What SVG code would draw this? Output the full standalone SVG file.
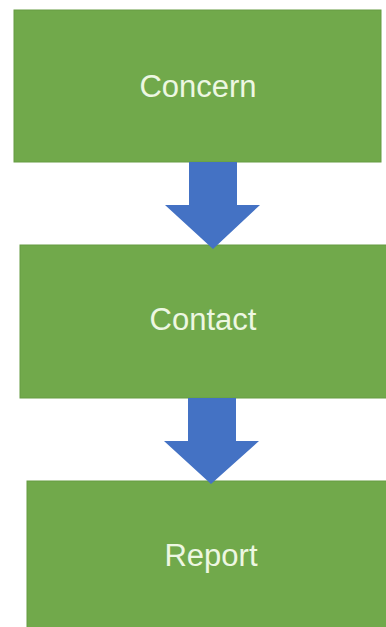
<svg xmlns="http://www.w3.org/2000/svg" width="386" height="627" viewBox="0 0 386 627">
<style>
.box{fill:#71a94b;stroke:#679c43;stroke-width:1}
.lbl{font-family:"Liberation Sans",Arial,sans-serif;font-size:31px;fill:#edf7e2;text-anchor:middle}
.arr{fill:#4472c4}
</style>
<rect width="386" height="627" fill="#ffffff"/>
<g id="concern">
<rect class="box" x="14" y="10" width="367" height="152"/>
<text class="lbl" x="198" y="97">Concern</text>
</g>
<g id="contact">
<rect class="box" x="20" y="245" width="370" height="153"/>
<text class="lbl" x="203" y="330">Contact</text>
</g>
<g id="report">
<rect class="box" x="27" y="481" width="370" height="150"/>
<text class="lbl" x="211" y="566">Report</text>
</g>
<g id="connectors">
<polygon class="arr" points="189,162 237,162 237,205 260,205 213,249 165,205 189,205"/>
<polygon class="arr" points="188,398 236,398 236,441 259,441 211,484 164,441 188,441"/>
</g>
</svg>
